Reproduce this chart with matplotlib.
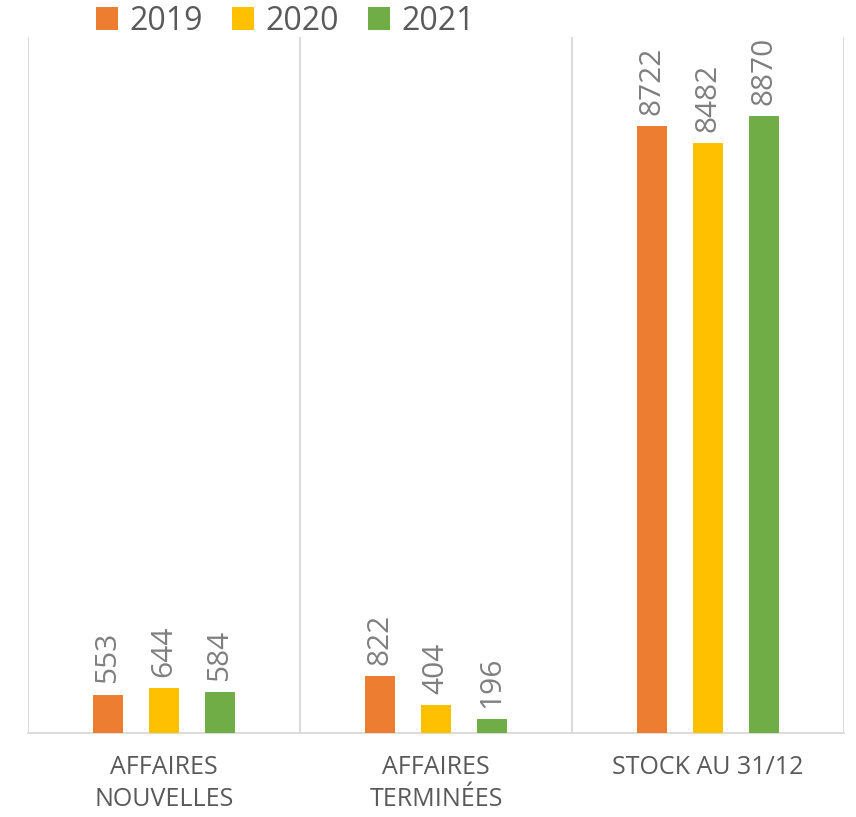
import matplotlib.pyplot as plt
import numpy as np
from matplotlib.patches import Patch

plt.rcParams["font.family"] = ["Open Sans", "DejaVu Sans"]

categories = ["AFFAIRES\nNOUVELLES", "AFFAIRES\nTERMINÉES", "STOCK AU 31/12"]
years = ["2019", "2020", "2021"]
values_2019 = [553, 822, 8722]
values_2020 = [644, 404, 8482]
values_2021 = [584, 196, 8870]

series = [values_2019, values_2020, values_2021]
colors = ["#ED7D31", "#FFC000", "#70AD47"]

fig = plt.figure(figsize=(8.56, 8.17), dpi=100)
ax = fig.add_axes([28 / 856, 84 / 817, 816 / 856, 696 / 817])

x = np.arange(len(categories))
width = 0.11
offsets = [-0.206, 0, 0.206]

for vals, off, col in zip(series, offsets, colors):
    bars = ax.bar(x + off, vals, width, color=col, zorder=3)
    for b, v in zip(bars, vals):
        ax.annotate(
            str(v),
            (b.get_x() + b.get_width() / 2, b.get_height()),
            xytext=(0, 8),
            textcoords="offset points",
            ha="center",
            va="bottom",
            rotation=90,
            fontsize=21.5,
            color="#7F7F7F",
        )

ax.set_xlim(-0.5, 2.5)
ax.set_ylim(0, 10000)
ax.set_yticks([])
ax.set_xticks(x)
ax.set_xticklabels(categories, fontsize=18, color="#595959", linespacing=1.35)
ax.tick_params(axis="x", length=0, pad=16)

# separators between categories
ax.set_xticks([-0.5, 0.5, 1.5, 2.5], minor=True)
ax.tick_params(axis="x", which="minor", length=0)
ax.grid(axis="x", which="minor", color="#D9D9D9", linewidth=1.3, zorder=0)

for s in ["top", "left", "right"]:
    ax.spines[s].set_visible(False)
ax.spines["bottom"].set_color("#D9D9D9")
ax.spines["bottom"].set_linewidth(1.3)

handles = [Patch(facecolor=c, edgecolor="none") for c in colors]
fig.legend(
    handles,
    years,
    loc="center left",
    bbox_to_anchor=(96 / 856, 1 - 21 / 817),
    ncol=3,
    frameon=False,
    fontsize=23,
    handlelength=0.7,
    handleheight=0.7,
    handletextpad=0.35,
    columnspacing=0.9,
    labelcolor="#595959",
    borderpad=0,
    borderaxespad=0,
)

fig.savefig("out.png", dpi=100)
